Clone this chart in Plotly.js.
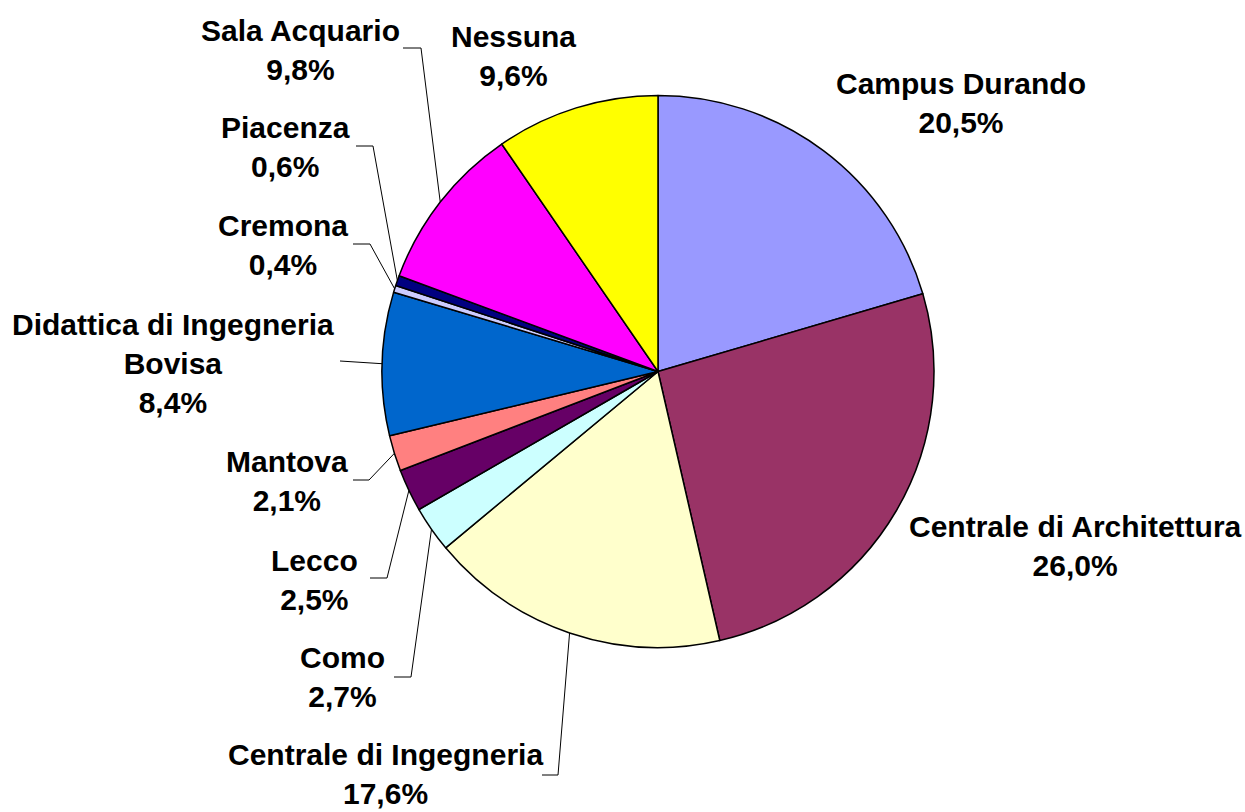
<!DOCTYPE html>
<html>
<head>
<meta charset="utf-8">
<script src="https://cdn.plot.ly/plotly-3.0.1.min.js"></script>
<style>html,body{margin:0;padding:0;background:#fff;}#chart{width:1245px;height:812px;}</style>
</head>
<body>
<div id="chart"></div>
<script>
// ---- data ----
const categories = ["Campus Durando", "Centrale di Architettura", "Centrale di Ingegneria", "Como", "Lecco", "Mantova", "Didattica di Ingegneria<br>Bovisa", "Cremona", "Piacenza", "Sala Acquario", "Nessuna"];
const values = [20.5, 26.0, 17.6, 2.7, 2.5, 2.1, 8.4, 0.4, 0.6, 9.8, 9.6];
const colors = ["#9999FF", "#993366", "#FFFFCC", "#CCFFFF", "#660066", "#FF8080", "#0066CC", "#CCCCFF", "#000080", "#FF00FF", "#FFFF00"];

// ---- label layout (pixels) ----
const W = 1245, H = 812;
const labelPos = [[961, 103], [1075, 546], [385, 774], [343, 677], [314, 580], [287, 481], [173, 363], [283, 245], [285, 147], [300, 50], [513, 56]];
// leader: [elbowX, elbowY, endX] or null
const leaders = [null, null, [558, 775, 542], [411, 677, 394], [387, 578, 370], [369, 480, 353], [340, 361, 340], [370, 244, 353], [373, 146, 356], [421, 48, 403], null];
const pieCx = 658, pieCy = 371.5, pieR = 276;

const total = values.reduce((a, b) => a + b, 0);
const px = x => x / W, py = y => 1 - y / H;

const annotations = categories.map((c, i) => ({
  xref: 'paper', yref: 'paper', x: px(labelPos[i][0]), y: py(labelPos[i][1]),
  xanchor: 'center', yanchor: 'middle', showarrow: false, align: 'center',
  text: c + '<br>' + values[i].toFixed(1).replace('.', ',') + '%',
  font: {family: 'Liberation Sans, Arial, sans-serif', size: 30, color: '#000', weight: 'bold'}
}));

const shapes = [];
let cum = 0;
values.forEach((v, i) => {
  const mid = (cum + v / 2) / total * 2 * Math.PI;
  cum += v;
  if (!leaders[i]) return;
  const sx = pieCx + pieR * Math.sin(mid), sy = pieCy - pieR * Math.cos(mid);
  const [ex, ey, endX] = leaders[i];
  shapes.push({
    type: 'path', xref: 'paper', yref: 'paper',
    path: `M ${px(sx)} ${py(sy)} L ${px(ex)} ${py(ey)} L ${px(endX)} ${py(ey)}`,
    line: {color: '#000', width: 1}
  });
});

const trace = {
  type: 'pie', labels: categories, values: values, sort: false, direction: 'clockwise', rotation: 0,
  marker: {colors: colors, line: {color: '#000', width: 1.5}},
  textinfo: 'none', hoverinfo: 'label+percent', showlegend: false,
  domain: {x: [(pieCx - pieR) / W, (pieCx + pieR) / W], y: [1 - (pieCy + pieR) / H, 1 - (pieCy - pieR) / H]}
};

Plotly.newPlot('chart', [trace], {
  width: W, height: H, margin: {l: 0, r: 0, t: 0, b: 0},
  paper_bgcolor: '#fff', plot_bgcolor: '#fff', showlegend: false,
  annotations: annotations, shapes: shapes
}, {displayModeBar: false, staticPlot: true});
</script>
</body>
</html>
